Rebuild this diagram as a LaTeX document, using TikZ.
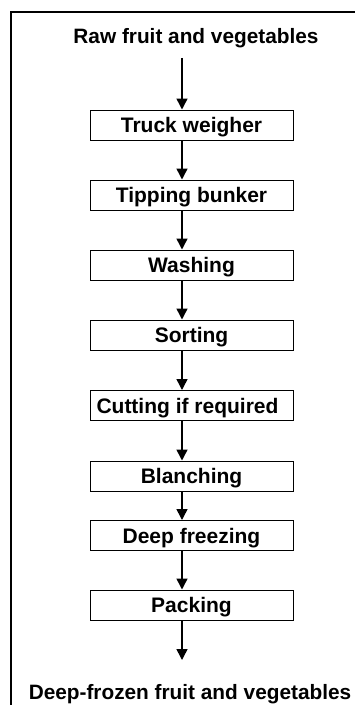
\documentclass[tikz,border=0pt]{standalone}
\usepackage{fontspec}
\setmainfont{Liberation Sans}
\usetikzlibrary{arrows.meta}
\begin{document}
\begin{tikzpicture}[x=1pt,y=-1pt,
  stepbox/.style={draw,line width=1pt,minimum width=203pt,minimum height=30pt,inner sep=0pt,text height=15pt,text depth=0pt,font=\fontsize{21}{23}\selectfont\bfseries},
  endtext/.style={inner sep=0pt,text height=15pt,text depth=0pt,font=\fontsize{20.8}{23}\selectfont\bfseries},
  flow/.style={line width=1.5pt,-{Triangle[width=11pt,length=11pt]}}]
\useasboundingbox (0,0) rectangle (355,709);
\draw[line width=2pt] (355,12.5) -- (11,12.5) -- (11,705);
\node[endtext] (raw) at (196,36) {Raw fruit and vegetables};
\node[stepbox] (b1) at (191.5,125) {Truck weigher};
\node[stepbox] (b2) at (191.5,195) {Tipping bunker};
\node[stepbox] (b3) at (191.5,265) {Washing};
\node[stepbox] (b4) at (191.5,335) {Sorting};
\node[stepbox] (b5) at (191.5,405.5) {Cutting if required\hspace*{8pt}};
\node[stepbox] (b6) at (191.5,476) {Blanching};
\node[stepbox] (b7) at (191.5,535.5) {Deep freezing};
\node[stepbox] (b8) at (191.5,605) {Packing};
\node[endtext] (out) at (190,692) {Deep-frozen fruit and vegetables};
\coordinate (s0) at (182,58);
\draw[flow] (s0) -- ([xshift=-9.5pt]b1.north);
\foreach \a/\b in {b1/b2,b2/b3,b3/b4,b4/b5,b5/b6,b6/b7,b7/b8}
  \draw[flow] ([xshift=-9.5pt]\a.south) -- ([xshift=-9.5pt]\b.north);
\coordinate (e0) at (182,660);
\draw[flow] ([xshift=-9.5pt]b8.south) -- (e0);
\end{tikzpicture}
\end{document}
